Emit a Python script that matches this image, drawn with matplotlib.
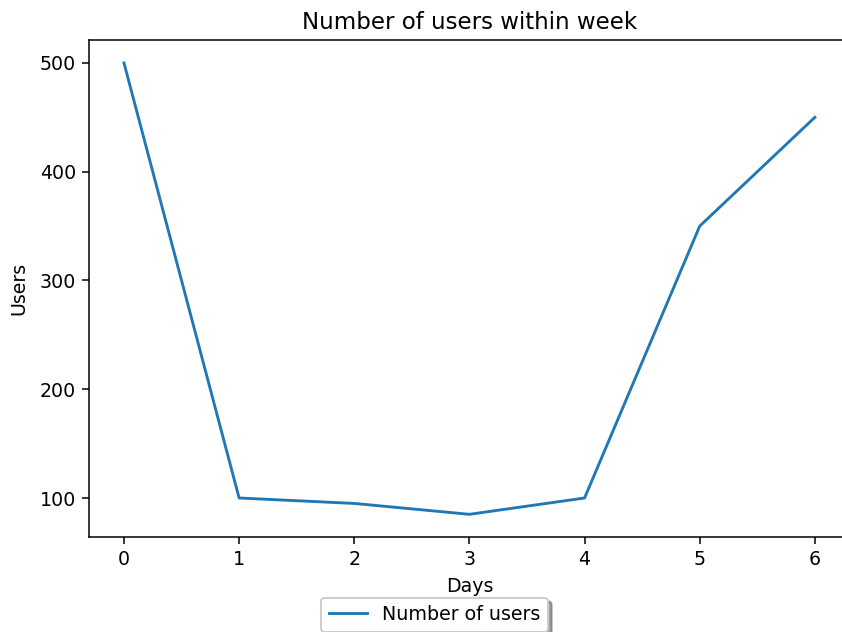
import matplotlib
matplotlib.use("Agg")
import matplotlib.pyplot as plt

days = [0, 1, 2, 3, 4, 5, 6]
users = [500, 100, 95, 85, 100, 350, 450]

DPI = 137
fig = plt.figure(figsize=(842 / DPI, 632 / DPI), dpi=DPI)
ax = fig.add_axes([0.1062, 0.1505, 0.9026, 0.7856])
ax.plot(days, users, label="Number of users")
ax.set_title("Number of users within week")
ax.set_xlabel("Days")
ax.set_ylabel("Users", labelpad=6)
ax.set_yticks([100, 200, 300, 400, 500])
ax.spines["right"].set_visible(False)
ax.legend(loc="upper center", bbox_to_anchor=(0.454, -0.103), shadow=True)
fig.savefig("out.png", dpi=DPI)
